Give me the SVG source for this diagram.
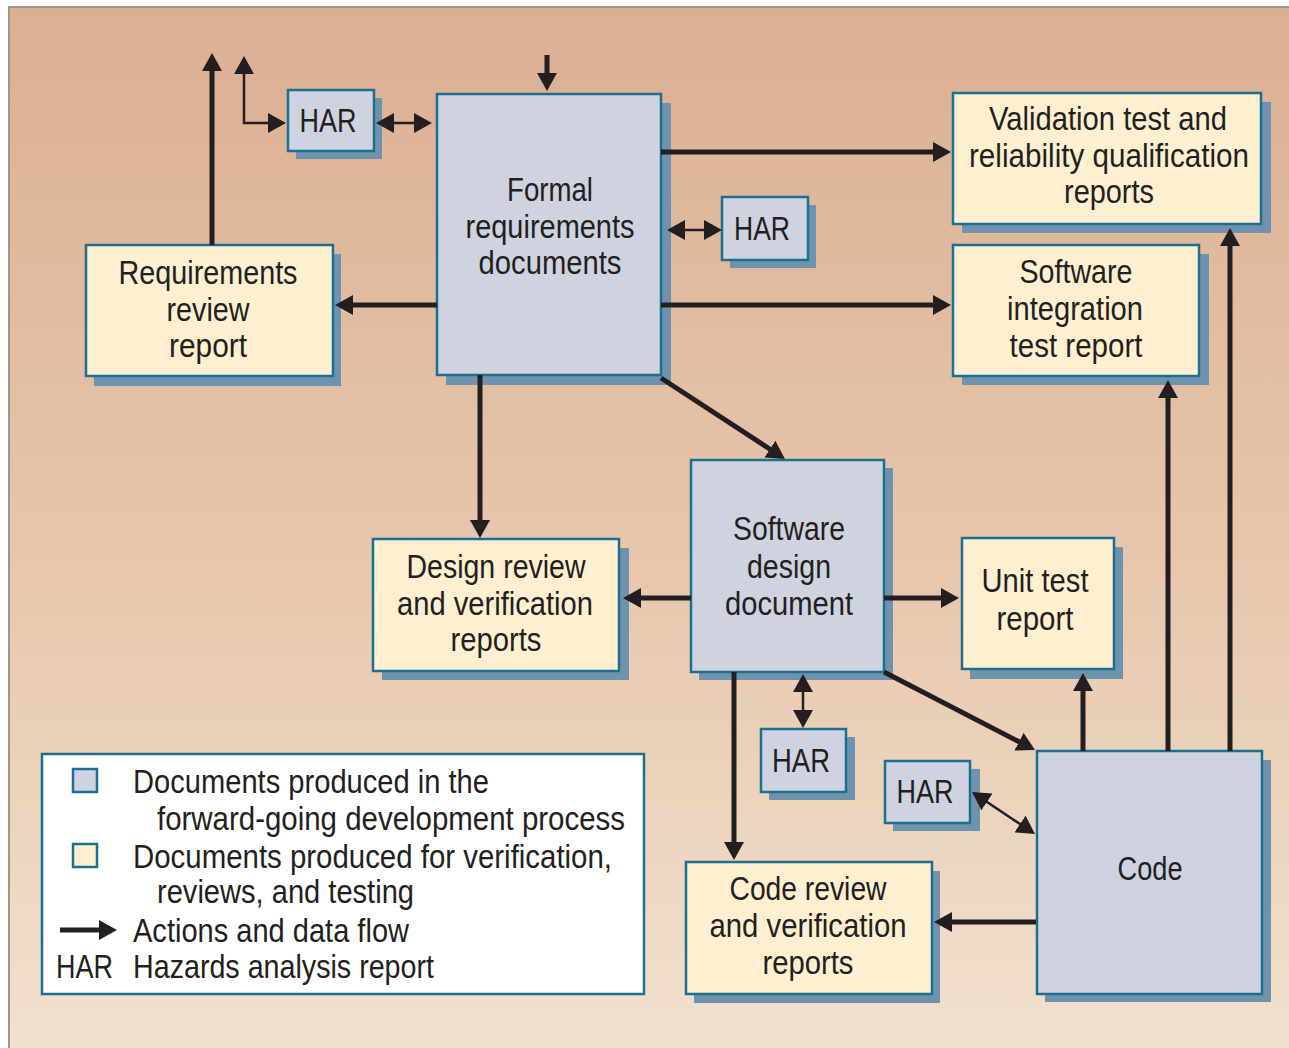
<svg xmlns="http://www.w3.org/2000/svg" width="1289" height="1048" viewBox="0 0 1289 1048">
<defs>
<linearGradient id="bg" x1="0" y1="0" x2="0" y2="1">
<stop offset="0" stop-color="#dbaf93"/>
<stop offset="0.5" stop-color="#e6c5aa"/>
<stop offset="1" stop-color="#f1e1ce"/>
</linearGradient>
<marker id="ah" markerUnits="userSpaceOnUse" markerWidth="18" markerHeight="20" viewBox="0 0 18 20" refX="8" refY="10" orient="auto-start-reverse">
<path d="M0,0L18,10L0,20z" fill="#231f20"/>
</marker>
<style>
.t{font-family:"Liberation Sans",Arial,sans-serif;font-size:34px;fill:#231f20;text-anchor:middle}
.l{text-anchor:start}
.sh{fill:#7093ad}
.b{fill:#cfd2df;stroke:#1d6f8f;stroke-width:2.5}
.y{fill:#fdefd0;stroke:#1d6f8f;stroke-width:2.5}
.c{fill:none;stroke:#231f20;stroke-width:5}
.n{fill:none;stroke:#231f20;stroke-width:2.5}
</style>
</defs>
<rect x="0" y="0" width="1289" height="1048" fill="#ffffff"/>
<rect x="8" y="6" width="1281" height="1042" fill="#a0958a"/>
<rect x="10" y="8" width="1279" height="1040" fill="url(#bg)"/>

<g id="har1"><rect class="sh" x="296" y="98" width="86" height="61"/><rect class="b" x="288" y="90" width="86" height="61"/><text class="t" x="328" y="132" textLength="57" lengthAdjust="spacingAndGlyphs">HAR</text></g>
<g id="formal"><rect class="sh" x="446" y="103" width="225" height="282"/><rect class="b" x="437" y="94" width="224" height="281"/><text class="t" x="550" y="201" textLength="86" lengthAdjust="spacingAndGlyphs">Formal</text><text class="t" x="550" y="238" textLength="169" lengthAdjust="spacingAndGlyphs">requirements</text><text class="t" x="550" y="274" textLength="143" lengthAdjust="spacingAndGlyphs">documents</text></g>
<g id="har2"><rect class="sh" x="730" y="205" width="86" height="63"/><rect class="b" x="722" y="197" width="86" height="63"/><text class="t" x="762" y="240" textLength="56" lengthAdjust="spacingAndGlyphs">HAR</text></g>
<g id="validation"><rect class="sh" x="962" y="102" width="309" height="131"/><rect class="y" x="953" y="93" width="308" height="131"/><text class="t" x="1108" y="130" textLength="238" lengthAdjust="spacingAndGlyphs">Validation test and</text><text class="t" x="1109" y="167" textLength="280" lengthAdjust="spacingAndGlyphs">reliability qualification</text><text class="t" x="1109" y="203" textLength="90" lengthAdjust="spacingAndGlyphs">reports</text></g>
<g id="integration"><rect class="sh" x="962" y="254" width="247" height="131"/><rect class="y" x="953" y="245" width="246" height="131"/><text class="t" x="1076" y="283" textLength="113" lengthAdjust="spacingAndGlyphs">Software</text><text class="t" x="1075" y="320" textLength="136" lengthAdjust="spacingAndGlyphs">integration</text><text class="t" x="1076" y="357" textLength="133" lengthAdjust="spacingAndGlyphs">test report</text></g>
<g id="reqreview"><rect class="sh" x="94" y="254" width="247" height="132"/><rect class="y" x="86" y="245" width="247" height="131"/><text class="t" x="208" y="284" textLength="179" lengthAdjust="spacingAndGlyphs">Requirements</text><text class="t" x="208" y="321" textLength="83" lengthAdjust="spacingAndGlyphs">review</text><text class="t" x="208" y="357" textLength="78" lengthAdjust="spacingAndGlyphs">report</text></g>
<g id="swdesign"><rect class="sh" x="699" y="468" width="194" height="212"/><rect class="b" x="691" y="460" width="193" height="212"/><text class="t" x="789" y="540" textLength="112" lengthAdjust="spacingAndGlyphs">Software</text><text class="t" x="789" y="578" textLength="84" lengthAdjust="spacingAndGlyphs">design</text><text class="t" x="789" y="615" textLength="128" lengthAdjust="spacingAndGlyphs">document</text></g>
<g id="designreview"><rect class="sh" x="382" y="548" width="247" height="132"/><rect class="y" x="373" y="539" width="246" height="132"/><text class="t" x="496" y="578" textLength="179" lengthAdjust="spacingAndGlyphs">Design review</text><text class="t" x="495" y="615" textLength="196" lengthAdjust="spacingAndGlyphs">and verification</text><text class="t" x="496" y="651" textLength="91" lengthAdjust="spacingAndGlyphs">reports</text></g>
<g id="unittest"><rect class="sh" x="970" y="547" width="153" height="132"/><rect class="y" x="962" y="538" width="152" height="131"/><text class="t" x="1035" y="592" textLength="107" lengthAdjust="spacingAndGlyphs">Unit test</text><text class="t" x="1035" y="630" textLength="77" lengthAdjust="spacingAndGlyphs">report</text></g>
<g id="har3"><rect class="sh" x="769" y="737" width="86" height="63"/><rect class="b" x="761" y="729" width="85" height="63"/><text class="t" x="801" y="772" textLength="58" lengthAdjust="spacingAndGlyphs">HAR</text></g>
<g id="har4"><rect class="sh" x="893" y="769" width="87" height="62"/><rect class="b" x="885" y="761" width="85" height="62"/><text class="t" x="925" y="803" textLength="57" lengthAdjust="spacingAndGlyphs">HAR</text></g>
<g id="code"><rect class="sh" x="1045" y="760" width="226" height="242"/><rect class="b" x="1037" y="751" width="225" height="243"/><text class="t" x="1150" y="880" textLength="65" lengthAdjust="spacingAndGlyphs">Code</text></g>
<g id="codereview"><rect class="sh" x="694" y="871" width="246" height="132"/><rect class="y" x="686" y="862" width="246" height="132"/><text class="t" x="808" y="900" textLength="157" lengthAdjust="spacingAndGlyphs">Code review</text><text class="t" x="808" y="937" textLength="197" lengthAdjust="spacingAndGlyphs">and verification</text><text class="t" x="808" y="974" textLength="91" lengthAdjust="spacingAndGlyphs">reports</text></g>

<g id="connectors">
<path class="c" d="M212,245V63" marker-end="url(#ah)"/>
<path class="n" d="M244,66V123H276" marker-start="url(#ah)" marker-end="url(#ah)"/>
<path class="n" d="M386,123H422" marker-start="url(#ah)" marker-end="url(#ah)"/>
<path class="c" d="M547,55V81" marker-end="url(#ah)"/>
<path class="c" d="M661,152H941" marker-end="url(#ah)"/>
<path class="n" d="M677,230H712" marker-start="url(#ah)" marker-end="url(#ah)"/>
<path class="c" d="M661,305H941" marker-end="url(#ah)"/>
<path class="c" d="M437,305H345" marker-end="url(#ah)"/>
<path class="c" d="M480,375V528" marker-end="url(#ah)"/>
<path class="c" d="M661,378L776.6,453.5" marker-end="url(#ah)"/>
<path class="c" d="M691,598H633" marker-end="url(#ah)"/>
<path class="c" d="M884,598H949" marker-end="url(#ah)"/>
<path class="n" d="M803,684V718" marker-start="url(#ah)" marker-end="url(#ah)"/>
<path class="c" d="M734,672V850" marker-end="url(#ah)"/>
<path class="c" d="M884,672L1026.1,745.4" marker-end="url(#ah)"/>
<path class="n" d="M980.3,797.5L1026.7,828.5" marker-start="url(#ah)" marker-end="url(#ah)"/>
<path class="c" d="M1036,922H944" marker-end="url(#ah)"/>
<path class="c" d="M1083,751V683" marker-end="url(#ah)"/>
<path class="c" d="M1168,751V390" marker-end="url(#ah)"/>
<path class="c" d="M1230,751V238" marker-end="url(#ah)"/>
</g>

<g id="legend">
<rect x="42" y="754" width="602" height="240" fill="#ffffff" stroke="#1d6f8f" stroke-width="2.5"/>
<rect class="b" x="73" y="769" width="24" height="23"/>
<rect class="y" x="73" y="844" width="24" height="23"/>
<path class="c" d="M60,930H107" marker-end="url(#ah)"/>
<text class="t l" x="133" y="793" textLength="356" lengthAdjust="spacingAndGlyphs">Documents produced in the</text>
<text class="t l" x="157" y="830" textLength="468" lengthAdjust="spacingAndGlyphs">forward-going development process</text>
<text class="t l" x="133" y="868" textLength="479" lengthAdjust="spacingAndGlyphs">Documents produced for verification,</text>
<text class="t l" x="157" y="903" textLength="257" lengthAdjust="spacingAndGlyphs">reviews, and testing</text>
<text class="t l" x="133" y="942" textLength="276" lengthAdjust="spacingAndGlyphs">Actions and data flow</text>
<text class="t l" x="56" y="978" textLength="57" lengthAdjust="spacingAndGlyphs">HAR</text>
<text class="t l" x="133" y="978" textLength="301" lengthAdjust="spacingAndGlyphs">Hazards analysis report</text>
</g>
</svg>
